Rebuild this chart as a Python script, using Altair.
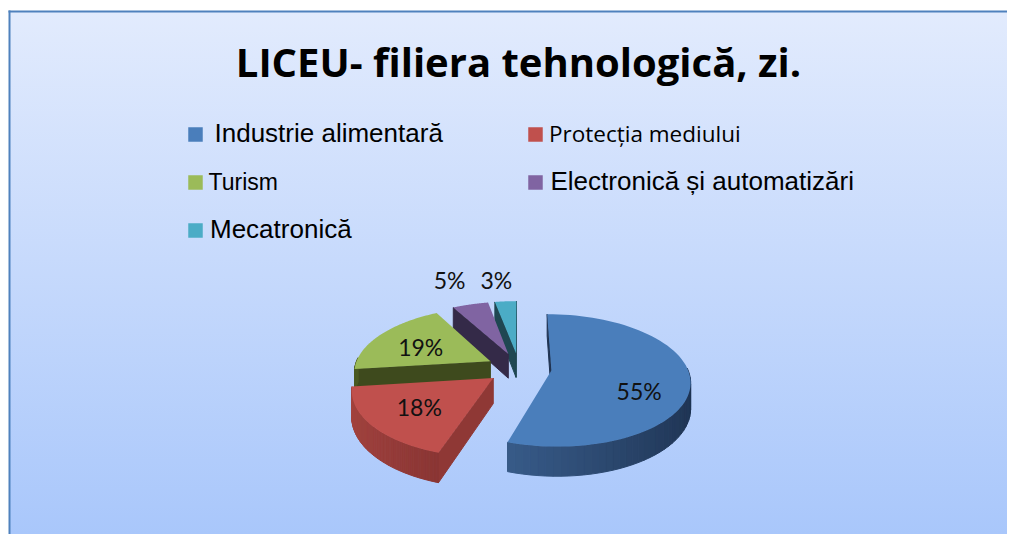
import math
import altair as alt
import pandas as pd

# ---------------- data ----------------
categories = ["Industrie alimentară", "Protecția mediului", "Turism",
              "Electronică și automatizări", "Mecatronică"]
values = [55, 18, 19, 5, 3]
title_text = "LICEU- filiera tehnologică, zi."

# ---------------- styles ----------------
colors = ["#4a7ebb", "#c0504d", "#9bbb59", "#8064a2", "#4bacc6"]
side_left = ["#4570a5", "#a3433f", "#4a5a22", "#4a3a5f", "#2b6676"]
side_right = ["#1e3352", "#5a1c1e", "#3e4a1e", "#35284a", "#1d4a55"]
side_cut = ["#1f3352", "#8f3835", "#3e4a1d", "#342a48", "#1f4752"]

legend_font = ["Liberation Sans", "Open Sans", "Liberation Sans",
               "Liberation Sans", "Liberation Sans"]
legend_size = [26, 22.5, 23, 26, 26]
legend_dx = [6, 0.5, 0, 2, 1.5]

label_radius = [0.6, 0.6, 0.6, 1.5, 1.5]
label_dx = [5, -4, -2, -5, -5]
label_dy = [16, 4, 4, -2, 2]

# canvas / geometry (page pixel units)
W, H, OFF = 999, 526, 8
CX, CY = 519, 368          # pie centre
R, RK = 136, 64            # horizontal radius, vertical radius (tilt)
P = 0.15                   # perspective strength
E = 0.24                   # explosion (fraction of radius)
D = 25                     # thickness
N = 72                     # segments per slice


def rgb(h):
    return [int(h[k:k + 2], 16) for k in (1, 3, 5)]


pie_df = pd.DataFrame({
    "cat": categories,
    "value": values,
    "idx": list(range(len(values))),
    "top": colors,
    "cut": side_cut,
    "lr": [rgb(c)[0] for c in side_left],
    "lg": [rgb(c)[1] for c in side_left],
    "lb": [rgb(c)[2] for c in side_left],
    "rr": [rgb(c)[0] for c in side_right],
    "rg": [rgb(c)[1] for c in side_right],
    "rb": [rgb(c)[2] for c in side_right],
    "lk": label_radius,
    "ldx": label_dx,
    "ldy": label_dy,
})

X_SCALE = alt.Scale(domain=[OFF, OFF + W], nice=False, zero=False)
Y_SCALE = alt.Scale(domain=[OFF, OFF + H], nice=False, zero=False, reverse=True)


def xy(xf, yf):
    return dict(x=alt.X(xf, scale=X_SCALE, axis=None),
                y=alt.Y(yf, scale=Y_SCALE, axis=None))


base = (
    alt.Chart(pie_df)
    .transform_window(cum="sum(value)", sort=[alt.SortField("idx")], frame=[None, 0])
    .transform_joinaggregate(total="sum(value)")
    .transform_calculate(a0="2 * PI * (datum.cum - datum.value) / datum.total")
    .transform_calculate(a1="2 * PI * datum.cum / datum.total")
    .transform_calculate(am="(datum.a0 + datum.a1) / 2")
    .transform_calculate(ax=f"{E} * sin(datum.am)")
    .transform_calculate(az=f"{E} * cos(datum.am)")
)


def top_layer(i):
    return (
        base.transform_filter(f"datum.idx == {i}")
        .transform_calculate(m=f"sequence(0, {N + 3})")
        .transform_flatten(["m"])
        .transform_calculate(ang=f"datum.a0 + (datum.a1 - datum.a0) * (datum.m - 1) / {N}")
        .transform_calculate(apex=f"datum.m == 0 || datum.m == {N + 2}")
        .transform_calculate(X="datum.apex ? datum.ax : datum.ax + sin(datum.ang)")
        .transform_calculate(Z="datum.apex ? datum.az : datum.az + cos(datum.ang)")
        .transform_calculate(s=f"1 / (1 + {P} * datum.Z)")
        .transform_calculate(px=f"{CX} + {R} * datum.X * datum.s")
        .transform_calculate(py=f"{CY} - {RK} * datum.Z * datum.s")
        .mark_line(filled=True, strokeWidth=0)
        .encode(**xy("px:Q", "py:Q"),
                order=alt.Order("m:Q"),
                color=alt.Color("top:N", scale=None))
    )


def wall_layer(i):
    col_expr = (
        f"(datum.j == 0 || datum.j == {N + 1}) ? datum.cut : "
        "'rgb(' + round(datum.lr + (datum.rr - datum.lr) * datum.t) + ',' + "
        "round(datum.lg + (datum.rg - datum.lg) * datum.t) + ',' + "
        "round(datum.lb + (datum.rb - datum.lb) * datum.t) + ')'"
    )
    keep_expr = (
        f"(datum.j == 0 && sin(datum.a0) < 0.05) || "
        f"(datum.j == {N + 1} && sin(datum.a1) > -0.05) || "
        f"(datum.j > 0 && datum.j <= {N} && cos(datum.angm) < 0.05)"
    )
    return (
        base.transform_filter(f"datum.idx == {i}")
        .transform_calculate(j=f"sequence(0, {N + 2})")
        .transform_flatten(["j"])
        .transform_calculate(angm=f"datum.a0 + (datum.a1 - datum.a0) * (datum.j - 0.5) / {N}")
        .transform_filter(keep_expr)
        .transform_calculate(c="sequence(0, 5)")
        .transform_flatten(["c"])
        .transform_calculate(m=f"(datum.c == 0 || datum.c >= 3) ? datum.j : (datum.j + 1) % {N + 2}")
        .transform_calculate(bot="datum.c == 2 || datum.c == 3")
        .transform_calculate(ang=f"datum.a0 + (datum.a1 - datum.a0) * (datum.m - 1) / {N}")
        .transform_calculate(X="datum.m == 0 ? datum.ax : datum.ax + sin(datum.ang)")
        .transform_calculate(Z="datum.m == 0 ? datum.az : datum.az + cos(datum.ang)")
        .transform_calculate(s=f"1 / (1 + {P} * datum.Z)")
        .transform_calculate(px=f"{CX} + {R} * datum.X * datum.s")
        .transform_calculate(py=f"{CY} - {RK} * datum.Z * datum.s + (datum.bot ? {D} * datum.s : 0)")
        .transform_calculate(t="(1 + sin(datum.angm)) / 2")
        .transform_calculate(col=col_expr)
        .mark_line(filled=True, strokeWidth=1, strokeJoin="round")
        .encode(**xy("px:Q", "py:Q"),
                detail=alt.Detail("j:N"),
                order=alt.Order("c:Q"),
                color=alt.Color("col:N", scale=None),
                stroke=alt.Stroke("col:N", scale=None))
    )


# paint order: farthest slices first (computed from the values)
tot = sum(values)
cum = 0
mids = []
for v in values:
    mids.append(2 * math.pi * (cum + v / 2) / tot)
    cum += v
paint = sorted(range(len(values)), key=lambda k: -math.cos(mids[k]))

pie_layers = []
for i in paint:
    pie_layers.append(wall_layer(i))
    pie_layers.append(top_layer(i))

labels = (
    base.transform_calculate(lX="datum.ax + datum.lk * sin(datum.am)")
    .transform_calculate(lZ="datum.az + datum.lk * cos(datum.am)")
    .transform_calculate(ls=f"1 / (1 + {P} * datum.lZ)")
    .transform_calculate(lpx=f"{CX} + {R} * datum.lX * datum.ls + datum.ldx")
    .transform_calculate(lpy=f"{CY} - {RK} * datum.lZ * datum.ls + datum.ldy")
    .transform_calculate(lab="format(datum.value / datum.total, '.0%')")
    .mark_text(font="Lato", fontSize=23, align="center", baseline="middle", color="#111111")
    .encode(**xy("lpx:Q", "lpy:Q"), text="lab:N")
)

# ---------------- background, border, title ----------------
one = pd.DataFrame({"a": [0]})
bg = alt.Chart(one).mark_rect(
    fill=alt.Gradient(
        gradient="linear",
        stops=[alt.GradientStop(color="#e2ebfd", offset=0),
               alt.GradientStop(color="#a9c7fb", offset=1)],
        x1=0, x2=0, y1=0, y2=1),
    strokeWidth=0,
).encode(x=alt.value(1.5), x2=alt.value(W), y=alt.value(3.5), y2=alt.value(H))

border_top = alt.Chart(one).mark_rule(color="#4f81bd", strokeWidth=2).encode(
    x=alt.value(0.5), x2=alt.value(W), y=alt.value(3.5), y2=alt.value(3.5))
border_left = alt.Chart(one).mark_rule(color="#4f81bd", strokeWidth=2).encode(
    x=alt.value(1.5), x2=alt.value(1.5), y=alt.value(2.5), y2=alt.value(H))

title = alt.Chart(one).mark_text(
    text=title_text, font="Open Sans", fontSize=40, fontWeight="bold",
    align="center", baseline="alphabetic", color="black",
).encode(x=alt.value(518.5 - OFF), y=alt.value(77 - OFF))

# ---------------- legend ----------------
leg_df = pd.DataFrame({
    "cat": categories,
    "color": colors,
    "i": list(range(len(categories))),
    "font": legend_font,
    "fs": legend_size,
    "dx": legend_dx,
})
leg_base = (
    alt.Chart(leg_df)
    .transform_calculate(col="datum.i % 2", row="floor(datum.i / 2)")
    .transform_calculate(sx="195.5 + 340 * datum.col", sy="134.5 + 48 * datum.row")
    .transform_calculate(tx="datum.sx + 13 + datum.dx", ty="datum.sy + 7.5")
)
leg_sq = leg_base.mark_square(size=210, opacity=1).encode(
    **xy("sx:Q", "sy:Q"), color=alt.Color("color:N", scale=None))
leg_txt = []
for fnt in sorted(set(legend_font)):
    leg_txt.append(
        leg_base.transform_filter(f"datum.font == '{fnt}'")
        .mark_text(font=fnt, align="left", baseline="alphabetic", color="black")
        .encode(**xy("tx:Q", "ty:Q"), text="cat:N",
                size=alt.Size("fs:Q", scale=None))
    )

chart = (
    alt.layer(bg, border_top, border_left, title, leg_sq, *leg_txt, *pie_layers, labels)
    .properties(width=W, height=H, padding=0,
                autosize=alt.AutoSizeParams(type="none"))
    .configure_view(stroke=None)
)

chart.save("out.html", embed_options={"renderer": "svg", "actions": False})
